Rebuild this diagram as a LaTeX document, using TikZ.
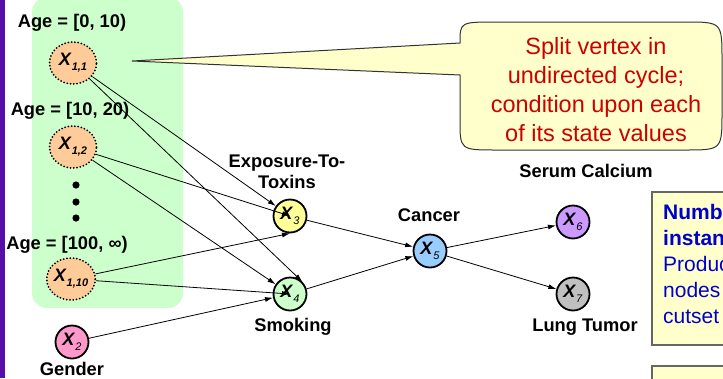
\documentclass[tikz,border=0pt]{standalone}
\usepackage{fontspec}
\setmainfont{Liberation Sans}
\usetikzlibrary{arrows.meta,shapes.geometric}

\definecolor{barpurple}{RGB}{88,12,168}
\definecolor{splitgreen}{HTML}{CCFFCC}
\definecolor{peach}{HTML}{FFCC99}
\definecolor{genderpink}{HTML}{FF99CC}
\definecolor{toxinyellow}{HTML}{FFFF99}
\definecolor{cancerblue}{HTML}{99CCFF}
\definecolor{calciumpurple}{HTML}{CC99FF}
\definecolor{tumorgray}{HTML}{C0C0C0}
\definecolor{noteyellow}{HTML}{FFFFCC}
\definecolor{notered}{HTML}{CC0000}
\definecolor{noteblue}{HTML}{0000CC}

\newcommand{\varx}[1]{\textbf{\textit{X}}\raisebox{-5pt}{\fontsize{11}{11}\selectfont\textit{#1}}}
\newcommand{\splitx}[1]{\textbf{\textit{X}}\raisebox{-5pt}{\fontsize{11}{11}\selectfont\textbf{\textit{#1}}}}

\begin{document}
\begin{tikzpicture}[x=1pt, y=-1pt, >={Latex[length=8pt,width=5pt]},
        var/.style={circle, draw, line width=1.8pt, minimum size=33pt, inner sep=0pt, font=\fontsize{18}{18}\selectfont},
        split/.style={ellipse, draw, fill=peach, line width=2pt, dash pattern=on 0pt off 3.3pt, line cap=round,
            minimum width=47pt, minimum height=42pt, inner sep=0pt, font=\fontsize{18}{18}\selectfont},
        lbl/.style={font=\fontsize{18.3}{21}\selectfont\bfseries, align=center, inner sep=0pt},
        edge/.style={->, line width=0.8pt},
        notebox/.style={draw=black!60, fill=noteyellow, line width=1.2pt}]
                \clip (0,0) rectangle (723,378);

                % Background
                \fill[barpurple] (0,0) rectangle (5,378);
                \fill[splitgreen, rounded corners=15pt] (32,-3) rectangle (183,308);

                % Callout
                \draw[fill=noteyellow, draw=black!80, line width=1pt]
                    (132,61) -- (460,43) .. controls (460,22) .. (497,22) -- (685,22)
                    .. controls (722,22) .. (722,60) -- (722,112) .. controls (722,150) .. (685,150)
                    -- (497,150) .. controls (460,150) .. (460,120) -- (460,75) -- cycle;
                \node[font=\fontsize{23.5}{29}\selectfont, text=notered, align=center, inner sep=0pt]
                    (splitnote) at (596,90) {Split vertex in\\undirected cycle;\\condition upon each\\of its state values};

                % Notes on the right
                \draw[notebox] (652,192) rectangle (900,345);
                \draw[notebox] (652,366) rectangle (900,450);
                \node[font=\fontsize{21}{26}\selectfont, text=noteblue, align=left, inner sep=0pt, anchor=north west]
                    (countnote) at (663,204) {\textbf{Number of}\\\textbf{instances:}\\Product of\\nodes in\\cutset};

                % Nodes
                \node[split] (x11) at (73,63) {\splitx{1,1}};
                \node[split] (x12) at (73,147) {\splitx{1,2}};
                \node[split] (x110) at (71,279) {\splitx{1,10}};
                \node[var, fill=genderpink] (x2) at (72,342) {\varx{2}};
                \node[var, fill=toxinyellow] (x3) at (290,216) {\varx{3}};
                \node[var, fill=splitgreen] (x4) at (290,294) {\varx{4}};
                \node[var, fill=cancerblue] (x5) at (430,251) {\varx{5}};
                \node[var, fill=calciumpurple] (x6) at (573,222) {\varx{6}};
                \node[var, fill=tumorgray] (x7) at (573,294) {\varx{7}};
                \foreach \y in {185,202,218}
                    \fill (76,\y) circle (3.6pt);

                % Labels
                \node[lbl] (age1) at (72,23) {Age = [0, 10)};
                \node[lbl] (age2) at (70,111) {Age = [10, 20)};
                \node[lbl] (age10) at (67,245) {Age = [100, ∞)};
                \node[lbl] (gender) at (72,369) {Gender};
                \node[lbl] (toxins) at (287,172) {Exposure-To-\\Toxins};
                \node[lbl] (smoking) at (293,327) {Smoking};
                \node[lbl] (cancer) at (429,215) {Cancer};
                \node[lbl] (calcium) at (586,171) {Serum Calcium};
                \node[lbl] (tumor) at (585,327) {Lung Tumor};

                % Edges
                \draw[edge] (x11) -- (x3);
                \draw[edge] (x11) -- (x4.north east);
                \draw[edge] (x12) -- (x3.center);
                \draw[edge] (x12) -- (x4);
                \draw[edge] (x110) -- (x3.south);
                \draw[edge] (x110) -- (x4.center);
                \draw[edge] (x2) -- (x4);
                \draw[edge] (x3) -- (x5);
                \draw[edge] (x4) -- (x5);
                \draw[edge] (x5) -- (x6);
                \draw[edge] (x5) -- (x7);
\end{tikzpicture}
\end{document}
